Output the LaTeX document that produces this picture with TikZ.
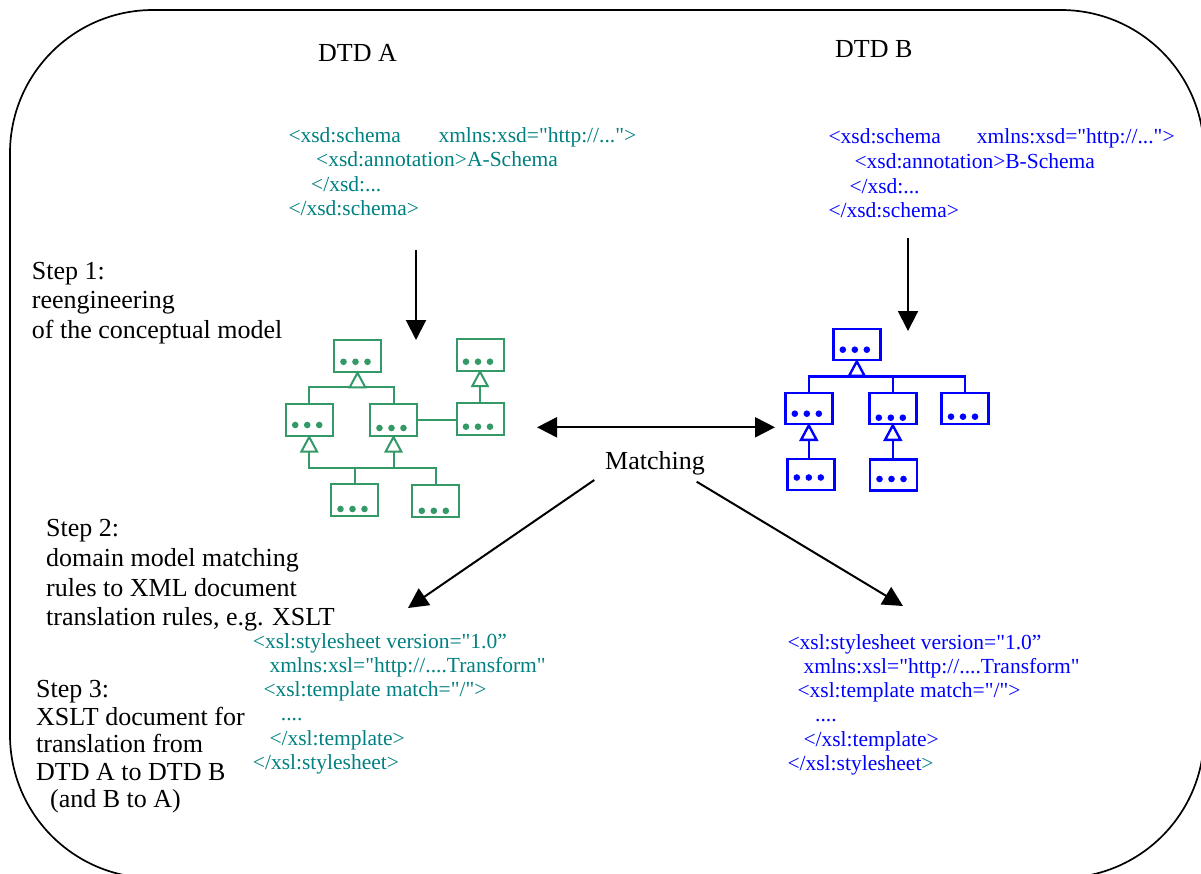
\documentclass[tikz,border=0pt]{standalone}
\usepackage{fontspec}
\setmainfont{Liberation Serif}[Ligatures=TeXOff]
\usetikzlibrary{arrows.meta,calc}
\definecolor{tealtxt}{RGB}{0,128,128}
\definecolor{treegreen}{RGB}{51,153,102}
\definecolor{xblue}{RGB}{0,0,255}
\newcommand{\boxdots}[3]{\foreach \dx in {-14,-2,10}{\fill[#3] ($(#1.center)+(\dx,#2)$) circle (3.3pt);}}
% open inheritance triangle: apex at node south, base 14 below
\newcommand{\inhtri}[2]{\draw[#2,fill=white,line join=miter] (#1.south) -- ++(-7.8,14.5) -- ++(15.6,0) -- cycle;}
\begin{document}
\begin{tikzpicture}[x=1pt,y=-1pt,
 lbl/.style={anchor=base west,inner sep=0pt,font=\fontsize{26}{28}\selectfont},
 xmla/.style={anchor=base west,inner sep=0pt,font=\fontsize{21.5}{24}\selectfont,text=tealtxt},
 xmlb/.style={xmla,text=xblue},
 gbox/.style={draw=treegreen,line width=2pt,minimum width=47pt,minimum height=32pt,inner sep=0pt},
 bbox/.style={draw=xblue,line width=2.4pt,minimum width=47pt,minimum height=31pt,inner sep=0pt},
 gline/.style={draw=treegreen,line width=2pt},
 bline/.style={draw=xblue,line width=2.4pt},
 bigarrow/.style={line width=2pt,-{Triangle[length=20pt,width=20pt]}},
 dblarrow/.style={line width=2pt,{Triangle[length=20pt,width=20pt]}-{Triangle[length=20pt,width=20pt]}},
 frame/.style={line width=1.7pt,rounded corners=143pt}]
\useasboundingbox (0,0) rectangle (1201,873);
\draw[frame] (10,10) rectangle (1204,878);

% titles
\node[lbl] (dtda) at (318,61) {DTD A};
\node[lbl] (dtdb) at (835,57) {DTD B};

% XSD A
\node[xmla] (xa1) at (288.3,142) {<xsd:schema};
\node[xmla] (xa1b) at (438.3,142) {xmlns:xsd="http://..."{}>};
\node[xmla] (xa2) at (316,166.5) {<xsd:annotation>A-Schema};
\node[xmla] (xa3) at (311,191) {</xsd:...};
\node[xmla] (xa4) at (288.3,215.5) {</xsd:schema>};

% XSD B
\node[xmlb] (xb1) at (828.3,143) {<xsd:schema};
\node[xmlb] (xb1b) at (976.7,143) {xmlns:xsd="http://..."{}>};
\node[xmlb] (xb2) at (854.3,168) {<xsd:annotation>B-Schema};
\node[xmlb] (xb3) at (849.3,193) {</xsd:...};
\node[xmlb] (xb4) at (828.3,217) {</xsd:schema>};

% steps
\node[lbl] (s1a) at (31.7,279) {Step 1:};
\node[lbl] (s1b) at (31.7,308.5) {reengineering};
\node[lbl] (s1c) at (31.7,338) {of the conceptual model};

\node[lbl] (s2a) at (46,536) {Step 2:};
\node[lbl] (s2b) at (46,566) {domain model matching};
\node[lbl] (s2c) at (46,596) {rules to XML document};
\node[lbl] (s2d) at (46,625) {translation rules, e.g. XSLT};

\node[lbl] (s3a) at (36,697) {Step 3:};
\node[lbl] (s3b) at (36,725) {XSLT document for};
\node[lbl] (s3c) at (36,752) {translation from};
\node[lbl] (s3d) at (36,780) {DTD A to DTD B};
\node[lbl] (s3e) at (50,807) {(and B to A)};

% XSL left
\node[xmla] (la1) at (252.7,648) {<xsl:stylesheet version="1.0”};
\node[xmla] (la2) at (269.3,672) {xmlns:xsl="http://....Transform"};
\node[xmla] (la3) at (263.3,696.5) {<xsl:template match="/"{}>};
\node[xmla] (la4) at (280.7,720.5) {....};
\node[xmla] (la5) at (269.3,745) {</xsl:template>};
\node[xmla] (la6) at (252.7,769) {</xsl:stylesheet>};

% XSL right
\node[xmlb] (lb1) at (787.3,649.5) {<xsl:stylesheet version="1.0”};
\node[xmlb] (lb2) at (803.3,673) {xmlns:xsl="http://....Transform"};
\node[xmlb] (lb3) at (797.3,697) {<xsl:template match="/"{}>};
\node[xmlb] (lb4) at (815,721) {....};
\node[xmlb] (lb5) at (803.3,746) {</xsl:template>};
\node[xmlb] (lb6) at (787.3,770) {</xsl:stylesheet\textcolor{tealtxt}{>}};

% matching
\node[lbl] (match) at (605,469) {Matching};

% green tree
\node[gbox] (t1) at (357.5,355.8) {};
\node[gbox] (t2) at (480,354.7) {};
\node[gbox] (m1) at (309.2,420) {};
\node[gbox] (m2) at (393.5,420) {};
\node[gbox] (m3) at (480,418.7) {};
\node[gbox] (b1) at (354.5,500) {};
\node[gbox] (b2) at (435.8,500.8) {};
\boxdots{t1}{6}{treegreen}
\boxdots{t2}{7}{treegreen}
\boxdots{m1}{5}{treegreen}
\boxdots{m2}{8}{treegreen}
\boxdots{m3}{8}{treegreen}
\boxdots{b1}{9}{treegreen}
\boxdots{b2}{10}{treegreen}
\coordinate (gj1) at (357.5,387);
\coordinate (gbar) at (0,467.7);
\coordinate (gj2) at (b1.north |- gbar);
\draw[gline] (gj1) -- (t1.south);
\draw[gline] (m1.north) |- (gj1) -| (m2.north);
\draw[gline] (m3.north) -- (t2.south);
\draw[gline] (m2.east) -- (m2.east -| m3.west);
\draw[gline] (gj2) -| (m1.south);
\draw[gline] (gj2) -| (m2.south);
\draw[gline] (b1.north) -- (gj2);
\draw[gline] (b2.north) |- (gj2);
\inhtri{t1}{gline}
\inhtri{t2}{gline}
\inhtri{m1}{gline}
\inhtri{m2}{gline}

% blue tree
\node[bbox] (bt) at (856.8,344.7) {};
\node[bbox] (bl) at (808.8,408.7) {};
\node[bbox] (bm) at (892.8,408.7) {};
\node[bbox] (br) at (965,408.7) {};
\node[bbox] (bbl) at (810.8,474.5) {};
\node[bbox] (bbm) at (893.5,475) {};
\boxdots{bt}{5}{xblue}
\boxdots{bl}{5}{xblue}
\boxdots{bm}{9}{xblue}
\boxdots{br}{8}{xblue}
\boxdots{bbl}{3}{xblue}
\boxdots{bbm}{4}{xblue}
\coordinate (bj1) at (856.8,376.5);
\draw[bline] (bj1) -- (bt.south);
\draw[bline] (bl.north) |- (bj1) -| (br.north);
\draw[bline] (bm.north) -- (bm.north |- bj1);
\draw[bline] (bl.south |- bbl.north) -- (bl.south);
\draw[bline] (bm.south |- bbm.north) -- (bm.south);
\inhtri{bt}{bline}
\inhtri{bl}{bline}
\inhtri{bm}{bline}

% black arrows
\coordinate (ad1) at (416,250); \coordinate (ad2) at (416,340);
\coordinate (bd1) at (908,238); \coordinate (bd2) at (908,331);
\coordinate (mh1) at (537,427.3); \coordinate (mh2) at (775,427.3);
\coordinate (ml1) at (594.3,480); \coordinate (ml2) at (408,608);
\coordinate (mr1) at (696.7,481.7); \coordinate (mr2) at (903,606);
\draw[bigarrow] (ad1) -- (ad2);
\draw[bigarrow] (bd1) -- (bd2);
\draw[dblarrow] (mh1) -- (mh2);
\draw[bigarrow] (ml1) -- (ml2);
\draw[bigarrow] (mr1) -- (mr2);
\end{tikzpicture}
\end{document}
